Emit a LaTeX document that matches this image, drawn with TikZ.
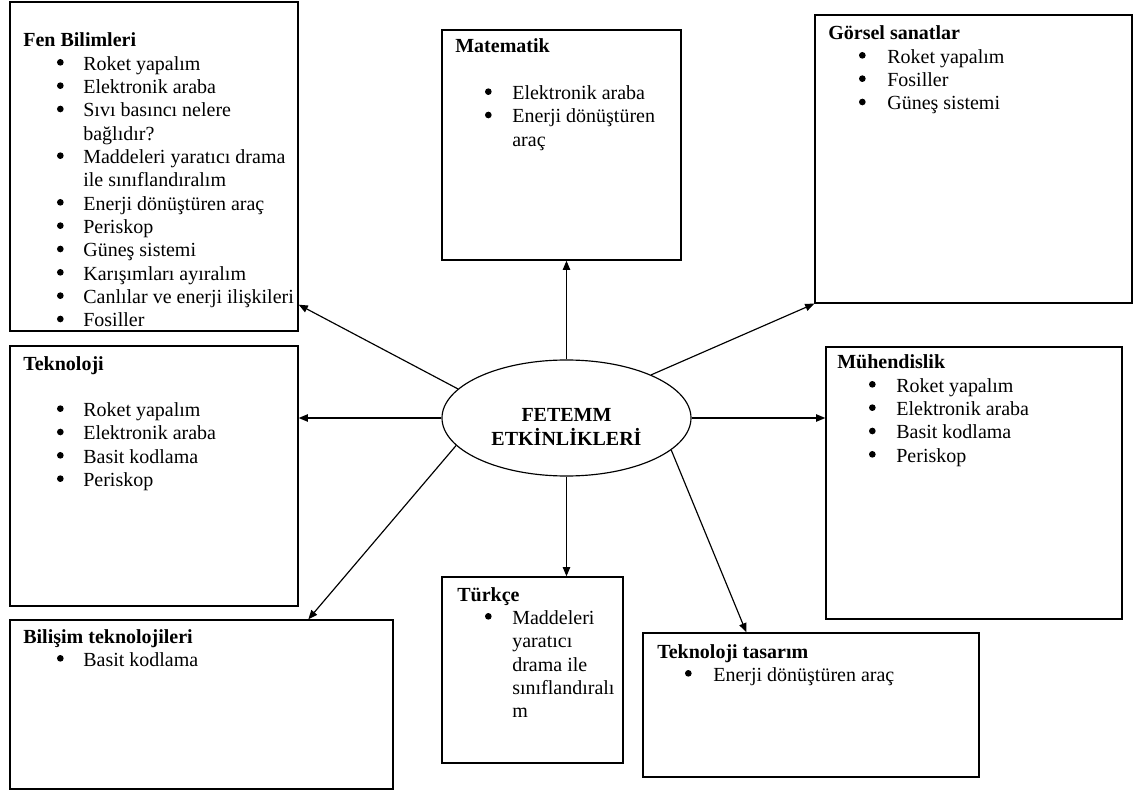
\documentclass[tikz,border=0pt]{standalone}
\usepackage{fontspec}
\setmainfont{Liberation Serif}
\usetikzlibrary{shapes.geometric,arrows.meta,fit,calc}

% one drawing unit
\newlength\pxu \setlength\pxu{0.6pt}
% bullet and item-text indents inside a box
\newlength\bulx \newlength\txtx
\newsavebox\bulbox
\newcommand\setind[2]{\setlength\bulx{\dimexpr#1\pxu-2pt\relax}\setlength\txtx{\dimexpr#2\pxu\relax}}
\newcommand\bul{\hspace*{\bulx}\makebox[\dimexpr\txtx-\bulx\relax][l]{\raisebox{2.8pt}{\usebox\bulbox}}}
\newcommand\cnt{\hspace*{\txtx}}

\begin{document}
% round list bullet
\sbox\bulbox{\begin{pgfpicture}\pgfpathcircle{\pgfpoint{0pt}{0pt}}{2pt}\pgfusepath{fill}\end{pgfpicture}}%
\begin{tikzpicture}[x=0.6pt,y=-0.6pt,
  box/.style={draw, line width=0.8pt, inner sep=0pt, rectangle},
  txt/.style={anchor=base west, inner sep=0pt, font=\fontsize{12}{14}\selectfont},
  arr/.style={-{Triangle[length=5.5pt,width=4.4pt]}, line width=0.7pt},
  hub/.style={draw, ellipse, line width=0.7pt, inner sep=0pt,
              minimum width=149.4pt, minimum height=69.6pt}]
\useasboundingbox (0,0) rectangle (1133,791);

% frames
\node[box, fit={(10,2) (298,331)}]    (fen)  {};
\node[box, fit={(442,30) (681,260)}]  (mat)  {};
\node[box, fit={(815,15) (1132,303)}] (gor)  {};
\node[box, fit={(10,346) (298,606)}]  (tek)  {};
\node[box, fit={(826,347) (1122,619)}] (muh) {};
\node[box, fit={(10,620) (393,789)}]  (bil)  {};
\node[box, fit={(442,577) (623,763)}] (turk) {};
\node[box, fit={(643,633) (979,777)}] (tt)   {};

% central ellipse
\node[hub] (ell) at (566.5,418) {};
\node[anchor=base, inner sep=0pt, font=\bfseries\fontsize{12}{14}\selectfont] (elltxt) at (566.5,421)
  {\begin{tabular}[t]{@{}c@{}}FETEMM\\ETKİNLİKLERİ\end{tabular}};

% box contents
\node[txt] (fentxt) at (23,47) {\setind{37}{60}\begin{tabular}[t]{@{}l@{}}
\textbf{Fen Bilimleri}\\
\bul Roket yapalım\\
\bul Elektronik araba\\
\bul Sıvı basıncı nelere\\
\cnt bağlıdır?\\
\bul Maddeleri yaratıcı drama\\
\cnt ile sınıflandıralım\\
\bul Enerji dönüştüren araç\\
\bul Periskop\\
\bul Güneş sistemi\\
\bul Karışımları ayıralım\\
\bul Canlılar ve enerji ilişkileri\\
\bul Fosiller
\end{tabular}};

\node[txt] (mattxt) at (455,53) {\setind{33}{57}\begin{tabular}[t]{@{}l@{}}
\textbf{Matematik}\\
\\
\bul Elektronik araba\\
\bul Enerji dönüştüren\\
\cnt araç
\end{tabular}};

\node[txt] (gortxt) at (828,40) {\setind{34}{59}\begin{tabular}[t]{@{}l@{}}
\textbf{Görsel sanatlar}\\
\bul Roket yapalım\\
\bul Fosiller\\
\bul Güneş sistemi
\end{tabular}};

\node[txt] (tektxt) at (23,370) {\setind{37}{60}\begin{tabular}[t]{@{}l@{}}
\textbf{Teknoloji}\\
\\
\bul Roket yapalım\\
\bul Elektronik araba\\
\bul Basit kodlama\\
\bul Periskop
\end{tabular}};

\node[txt] (muhtxt) at (837,369) {\setind{35}{59}\begin{tabular}[t]{@{}l@{}}
\textbf{Mühendislik}\\
\bul Roket yapalım\\
\bul Elektronik araba\\
\bul Basit kodlama\\
\bul Periskop
\end{tabular}};

\node[txt] (biltxt) at (23,643) {\setind{37}{60}\begin{tabular}[t]{@{}l@{}}
\textbf{Bilişim teknolojileri}\\
\bul Basit kodlama
\end{tabular}};

\node[txt] (turktxt) at (457,601) {\setind{31}{55}\begin{tabular}[t]{@{}l@{}}
\textbf{Türkçe}\\
\bul Maddeleri\\
\cnt yaratıcı\\
\cnt drama ile\\
\cnt sınıflandıralı\\
\cnt m
\end{tabular}};

\node[txt] (tttxt) at (657,658) {\setind{31}{56}\begin{tabular}[t]{@{}l@{}}
\textbf{Teknoloji tasarım}\\
\bul Enerji dönüştüren araç
\end{tabular}};

% connectors
\draw[arr] (ell.165.8) -- ($(fen.south east)+(0,-27)$);
\draw[arr] (ell.west) -- (ell.west -| tek.east);
\draw[arr] (ell.194.7) -- ($(bil.north west)+(299,0)$);
\draw[arr] (ell.north) -- (ell.north |- mat.south);
\draw[arr] (ell.south) -- (ell.south |- turk.north);
\draw[arr] (ell.27) -- (gor.south west);
\draw[arr] (ell.east) -- (ell.east -| muh.west);
\draw[arr] (ell.343.9) -- ($(tt.north west)+(104,0)$);
\end{tikzpicture}
\end{document}
